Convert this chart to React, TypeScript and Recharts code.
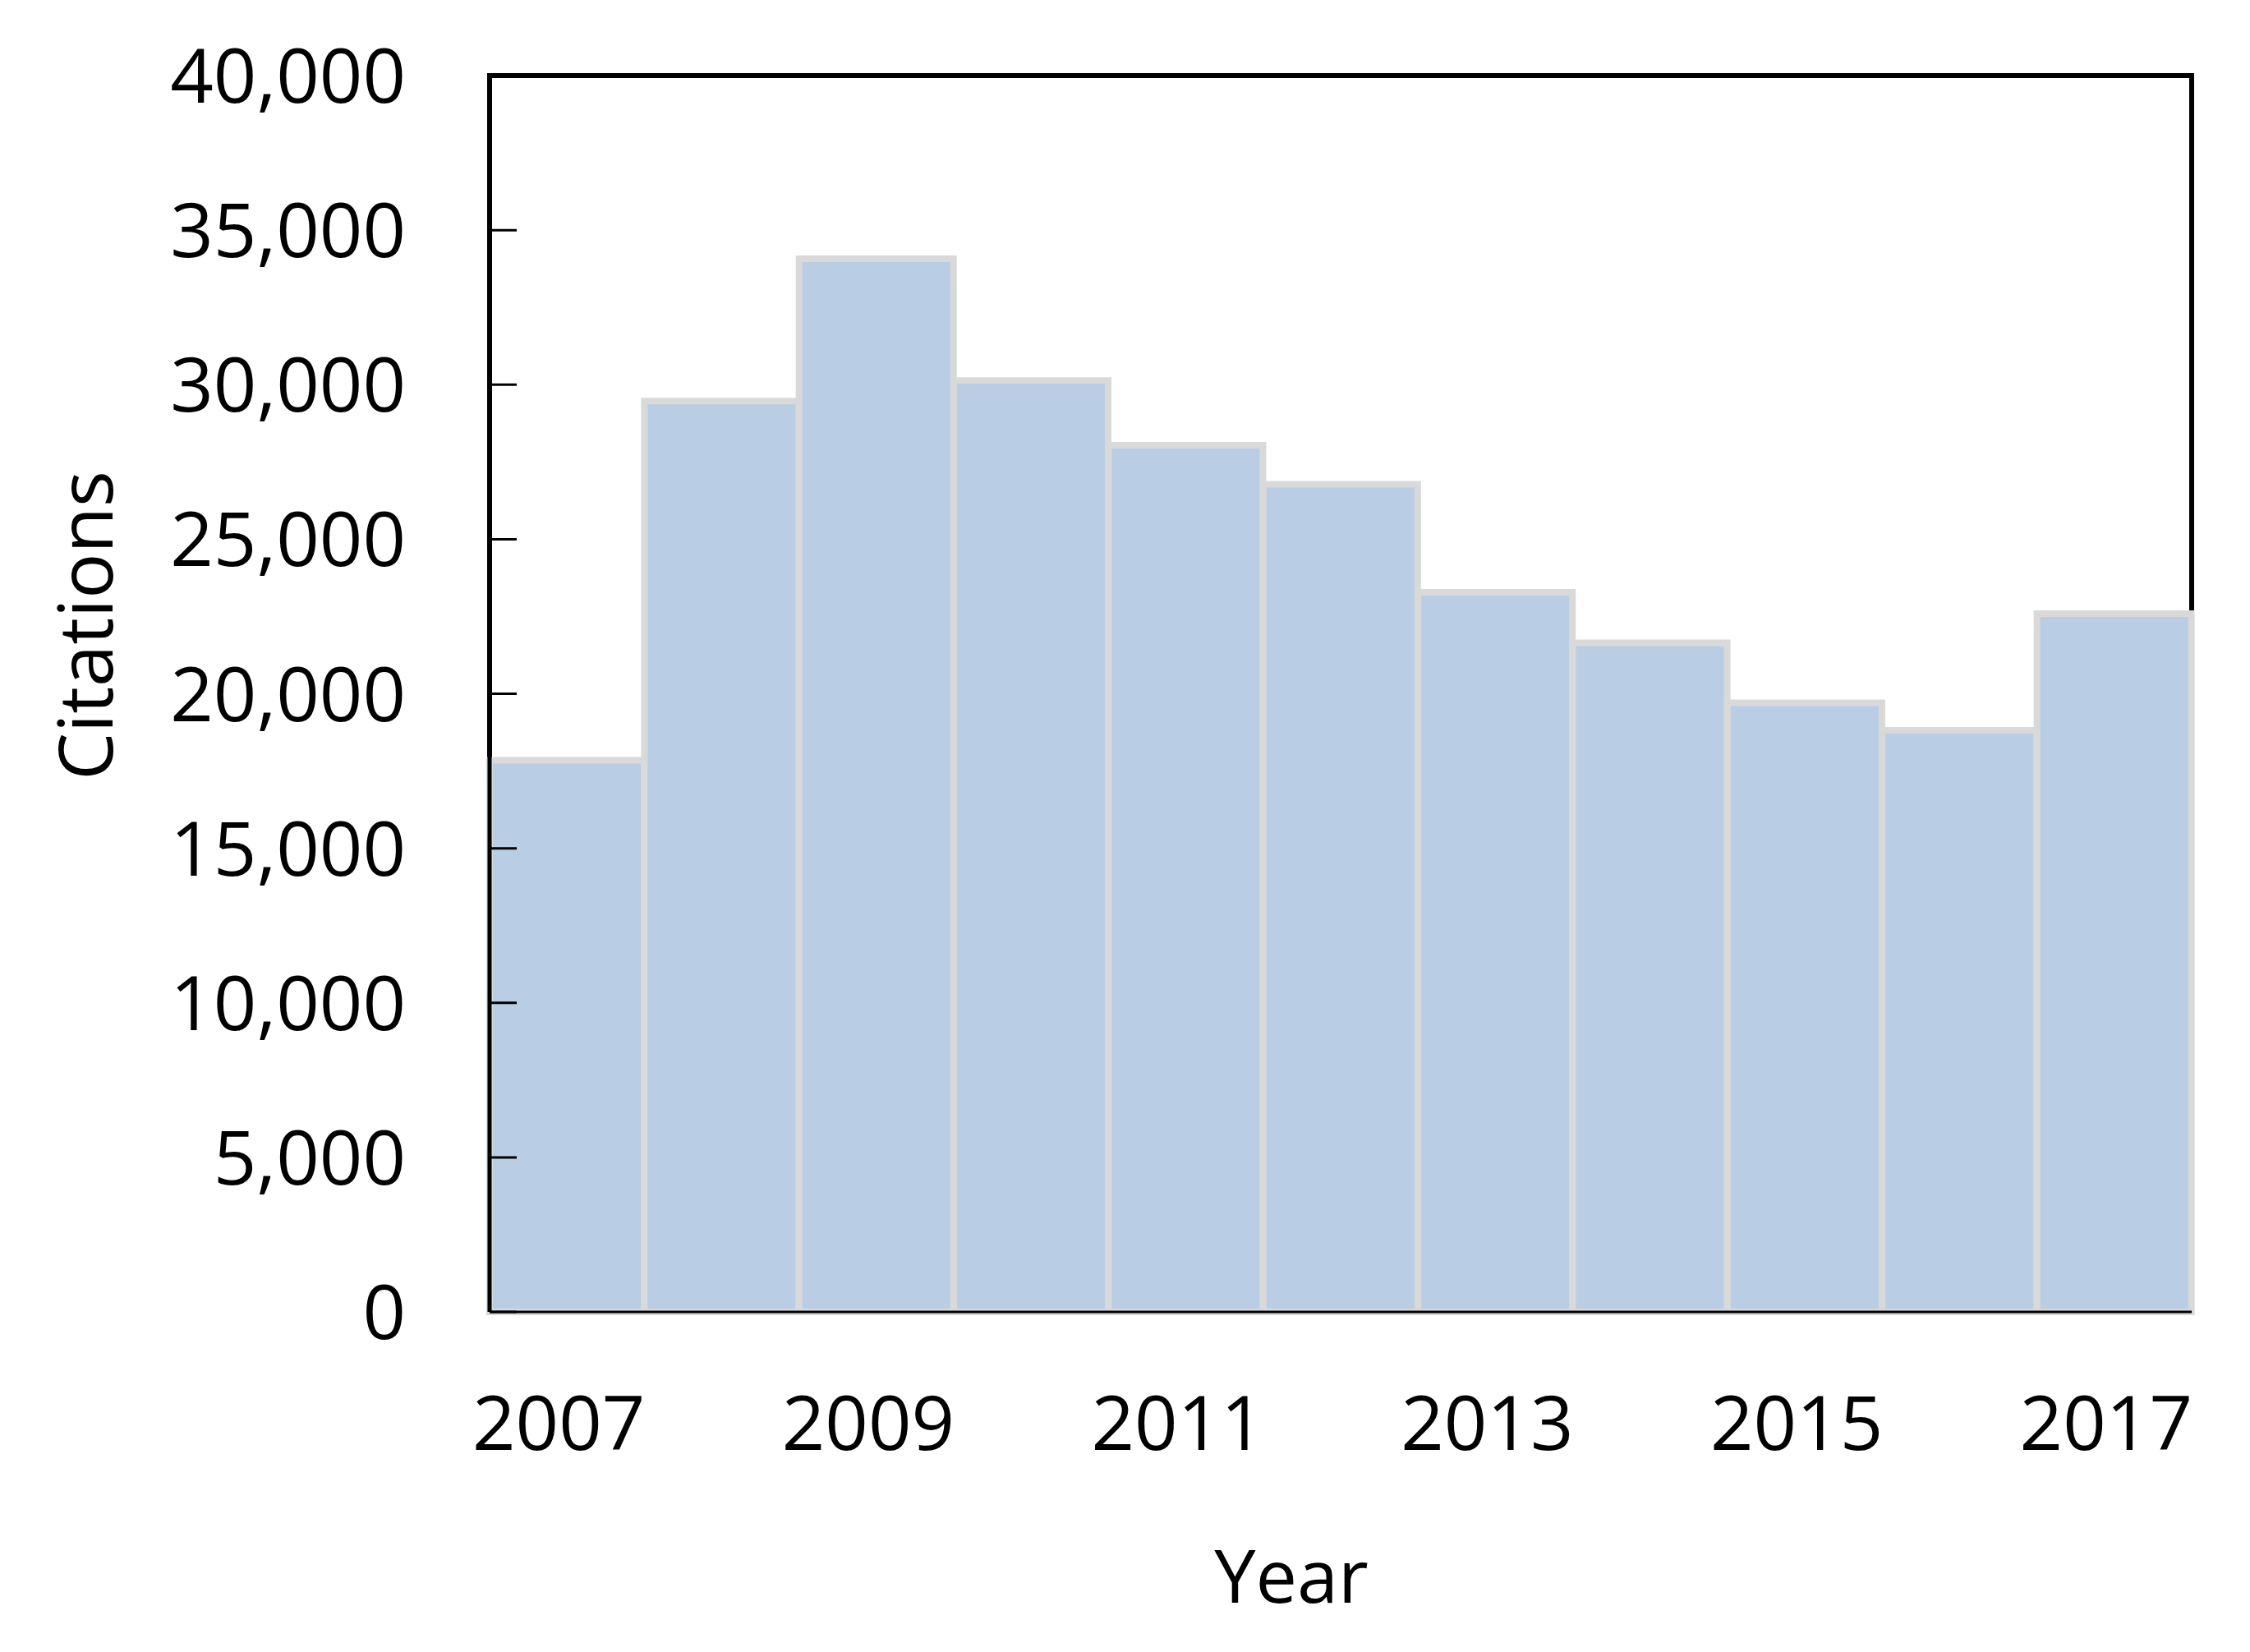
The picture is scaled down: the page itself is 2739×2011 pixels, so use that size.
import React from 'react';
import { BarChart, Bar, XAxis, YAxis, ReferenceLine, ReferenceArea, Label } from 'recharts';

const years = ['2007', '2008', '2009', '2010', '2011', '2012', '2013', '2014', '2015', '2016', '2017'];
const citations = [17850, 29470, 34070, 30130, 28040, 26780, 23280, 21650, 19710, 18820, 22590];
const yTicks = [0, 5000, 10000, 15000, 20000, 25000, 30000, 35000, 40000];
const xTicks = ['2007', '2009', '2011', '2013', '2015', '2017'];

const data = years.map((year, i) => ({ year, citations: citations[i] }));

const FONT = '"Open Sans", sans-serif';

const YTick = (props: any) => {
  const { x, y, payload } = props;
  return (
    <g>
      <line x1={x} x2={x + 33} y1={y} y2={y} stroke="#000" strokeWidth={3} />
      <text x={x - 102} y={y} dy="0.36em" textAnchor="end" fontFamily={FONT} fontSize={92} fill="#000">
        {Number(payload.value).toLocaleString('en-US')}
      </text>
    </g>
  );
};

const XTick = (props: any) => {
  const { x, y, payload } = props;
  return (
    <text x={x - 10} y={y} dy="0.71em" textAnchor="middle" fontFamily={FONT} fontSize={92} fill="#000">
      {payload.value}
    </text>
  );
};

const YearLabel = (props: any) => {
  const vb = props.viewBox || {};
  const cx = vb.x + vb.width / 2 - 60;
  return (
    <text x={cx} y={1951} textAnchor="middle" fontFamily={FONT} fontSize={90} fill="#000">
      Year
    </text>
  );
};

const CitLabel = (props: any) => {
  const vb = props.viewBox || {};
  const cy = vb.y + vb.height / 2 - 83;
  return (
    <text
      x={101}
      y={cy}
      textAnchor="middle"
      dominantBaseline="central"
      transform={`rotate(-90, 101, ${cy})`}
      fontFamily={FONT}
      fontSize={92}
      fill="#000"
    >
      Citations
    </text>
  );
};

export default function App() {
  return (
    <div style={{ position: 'absolute', left: 0, top: 0, background: '#fff' }}>
      <BarChart
        width={2739}
        height={2011}
        data={data}
        margin={{ top: 92, right: 71, left: 0, bottom: 44 }}
        barCategoryGap={0}
        barGap={0}
      >
        <YAxis
          width={596}
          domain={[0, 40000]}
          ticks={yTicks}
          interval={0}
          tick={<YTick />}
          tickLine={false}
          tickSize={0}
          tickMargin={0}
          axisLine={false}
        >
          <Label content={<CitLabel />} />
        </YAxis>
        <XAxis
          dataKey="year"
          ticks={xTicks}
          interval={0}
          height={370}
          tick={<XTick />}
          tickLine={false}
          tickSize={0}
          tickMargin={103}
          axisLine={false}
        >
          <Label content={<YearLabel />} />
        </XAxis>
        <ReferenceArea
          x1="2007"
          x2="2017"
          y1={0}
          y2={40000}
          ifOverflow="visible"
          fill="none"
          fillOpacity={0}
          stroke="#000"
          strokeWidth={6}
          strokeOpacity={1}
        />
        <Bar
          dataKey="citations"
          fill="#b9cde5"
          stroke="#d9d9d9"
          strokeWidth={8}
          isAnimationActive={false}
        />
        <ReferenceLine
          x="2007"
          position="start"
          ifOverflow="visible"
          stroke="#000"
          strokeWidth={5}
          strokeOpacity={1}
        />
        <ReferenceLine
          y={0}
          ifOverflow="visible"
          stroke="#000"
          strokeWidth={3}
          strokeOpacity={1}
        />
      </BarChart>
    </div>
  );
}
